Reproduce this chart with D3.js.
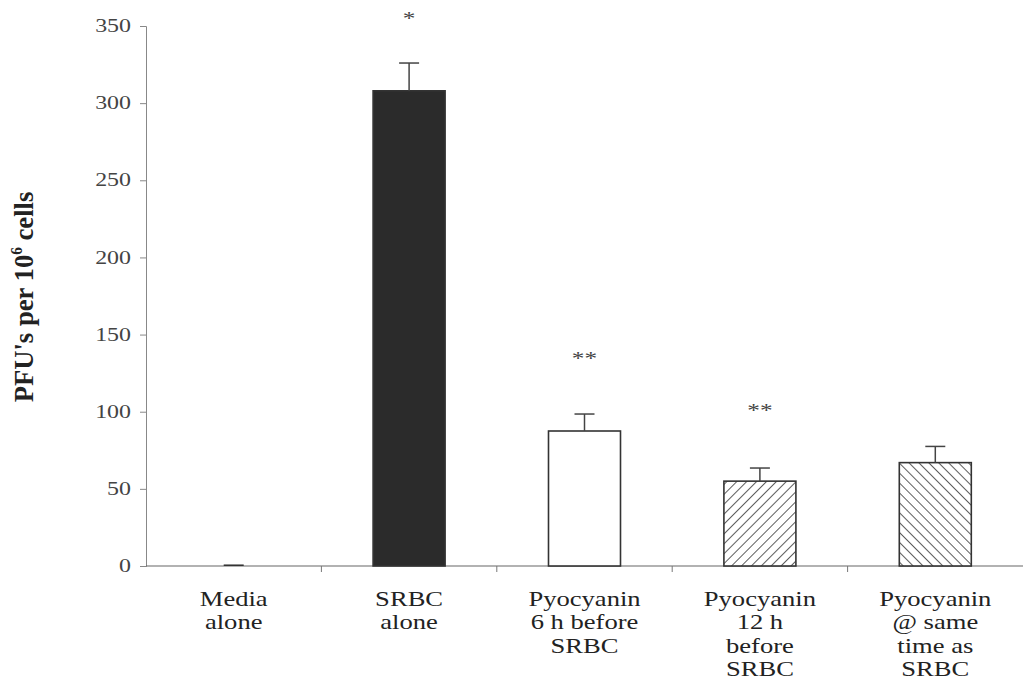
<!DOCTYPE html>
<html><head><meta charset="utf-8">
<script src="https://cdn.jsdelivr.net/npm/d3@7"></script>
<style>body{margin:0;background:#fff}</style>
</head><body>
<svg id="c" width="1028" height="698"></svg>
<script>
const categories = [["Media","alone"],["SRBC","alone"],["Pyocyanin","6 h before","SRBC"],["Pyocyanin","12 h","before","SRBC"],["Pyocyanin","@ same","time as","SRBC"]];
const values = [1, 308, 87.5, 55, 67];
const errors = [0, 18, 11, 8.5, 10.5];
const marks = ["", "*", "**", "**", ""];
const fills = ["solid","dark","white","fwd","back"];
const yTicks = [0,50,100,150,200,250,300,350];

const SX = 1.33; // horizontal stretch of the scanned text
const svg = d3.select("#c");
const defs = svg.append("defs");
function hatch(id, dir){
  const p = defs.append("pattern").attr("id",id).attr("patternUnits","userSpaceOnUse")
    .attr("width",7).attr("height",7).attr("patternTransform","rotate("+(dir>0?45:-45)+")");
  p.append("rect").attr("width",7).attr("height",7).attr("fill","#fff");
  p.append("line").attr("x1",0).attr("y1",0).attr("x2",0).attr("y2",7).attr("stroke","#333").attr("stroke-width",1.6);
}
hatch("fwd",1); hatch("back",-1);

const x0 = 146, x1 = 1023, yTop = 26, yBot = 566;
const x = d3.scaleBand().domain(d3.range(categories.length)).range([x0, x1]).paddingInner(0).paddingOuter(0);
const y = d3.scaleLinear().domain([0,350]).range([yBot, yTop]);
const bw = 72;
const font = "'Liberation Serif','Times New Roman',serif";

// y axis
const ya = svg.append("g").attr("transform",`translate(${x0},0)`)
  .call(d3.axisLeft(y).tickValues(yTicks).tickSize(6).tickFormat(""));
ya.selectAll("path,line").attr("stroke","#888");
yTicks.forEach(v=>{
  svg.append("text").attr("transform",`translate(131,${y(v)}) scale(${SX},1)`).attr("dy","0.34em")
    .attr("text-anchor","end").attr("font-family",font).attr("font-size",18).attr("fill","#444").text(v);
});

// x axis
svg.append("line").attr("x1",x0).attr("x2",x1).attr("y1",yBot).attr("y2",yBot).attr("stroke","#666").attr("stroke-width",1.2);
d3.range(1,categories.length).forEach(i=>{
  svg.append("line").attr("x1",x(i)).attr("x2",x(i)).attr("y1",yBot).attr("y2",yBot+6).attr("stroke","#777");
});

// bars
const g = svg.append("g");
values.forEach((v,i)=>{
  const cx = x(i)+x.bandwidth()/2;
  const f = fills[i];
  if(f==="solid"){
    g.append("rect").attr("x",cx-10).attr("y",y(v)).attr("width",20).attr("height",y(0)-y(v)).attr("fill","#333");
    return;
  }
  const fill = f==="dark"?"#2b2b2b":f==="white"?"#fff":`url(#${f})`;
  g.append("rect").attr("x",cx-bw/2).attr("y",y(v)).attr("width",bw).attr("height",y(0)-y(v))
    .attr("fill",fill).attr("stroke","#333").attr("stroke-width",1.6);
  if(errors[i]>0){
    g.append("line").attr("x1",cx).attr("x2",cx).attr("y1",y(v)).attr("y2",y(v+errors[i])).attr("stroke","#444").attr("stroke-width",1.5);
    g.append("line").attr("x1",cx-10).attr("x2",cx+10).attr("y1",y(v+errors[i])).attr("y2",y(v+errors[i])).attr("stroke","#444").attr("stroke-width",1.5);
  }
});

// significance stars
const starY = [0, 18, 358, 410, 0];
marks.forEach((m,i)=>{
  if(!m) return;
  const cx = x(i)+x.bandwidth()/2;
  svg.append("text").attr("transform",`translate(${cx},${starY[i]+7}) scale(${SX},1)`).attr("text-anchor","middle")
    .attr("font-family",font).attr("font-size",19).attr("fill","#444").text(m);
});

// category labels
categories.forEach((lines,i)=>{
  const cx = x(i)+x.bandwidth()/2;
  lines.forEach((l,j)=>{
    svg.append("text").attr("transform",`translate(${cx},${606+j*23.3}) scale(${SX},1)`)
      .attr("text-anchor","middle").attr("font-family",font).attr("font-size",20).attr("fill","#222").text(l);
  });
});

// y label
svg.append("text").attr("transform",`translate(33,297) scale(${SX},1.27) rotate(-90)`).attr("text-anchor","middle")
  .attr("font-family",font).attr("font-size",21).attr("font-weight","bold").attr("fill","#222")
  .html("PFU's per 10<tspan dy='-8' font-size='12'>6</tspan><tspan dy='8'> cells</tspan>");
</script>
</body></html>
